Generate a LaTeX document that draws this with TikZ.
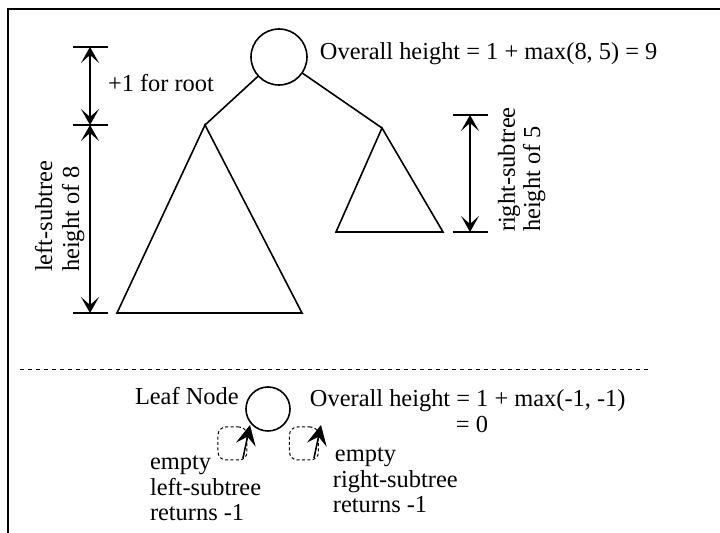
\documentclass[tikz,border=0pt]{standalone}
\usepackage{fontspec}
\setmainfont{Liberation Serif}
\usetikzlibrary{arrows.meta}
\begin{document}
\begin{tikzpicture}[x=0.5pt,y=-0.5pt,
  every node/.style={font=\fontsize{12.2}{13.5}\selectfont, inner sep=0pt, outer sep=0pt},
  ln/.style={line width=0.8pt},
  tnode/.style={circle, draw, line width=0.8pt},
  dim/.style={line width=0.6pt, {Stealth[length=8pt,width=9pt,inset=4pt]}-{Stealth[length=8pt,width=9pt,inset=4pt]}},
  tick/.style={line width=0.6pt},
  ebox/.style={draw, dashed, dash pattern=on 1.5pt off 1.2pt, line width=0.5pt, rounded corners=4pt, minimum width=14.5pt, minimum height=16.5pt},
  earrow/.style={line width=0.8pt, -{Stealth[length=10pt,width=10pt,inset=4pt]}},
  lbl/.style={anchor=base west}]
\useasboundingbox (0,0) rectangle (720,533);
% frame
\coordinate (fb) at (8,540);
\coordinate (fc) at (8,9);
\coordinate (fr) at (721,9);
\draw[line width=1.1pt] (fb) -- (fc) -- (fr);

% ---- top tree ----
\node[tnode, minimum size=28pt] (root) at (279,57) {};
\coordinate (la) at (205,125);
\coordinate (lb1) at (117,313);
\coordinate (lb2) at (302,313);
\coordinate (ra) at (382,128);
\coordinate (rb1) at (336,232);
\coordinate (rb2) at (443,232);
\draw[ln] (root) -- (la);
\draw[ln] (root) -- (ra);
\draw[ln, line join=miter] (la) -- (lb1) -- (lb2) -- cycle;
\draw[ln, line join=miter] (ra) -- (rb1) -- (rb2) -- cycle;

% left dimension
\coordinate (d1) at (90,47);
\coordinate (d2) at (90,125);
\coordinate (d3) at (90,313);
\foreach \c in {d1,d2,d3} \draw[tick] ([xshift=-8.5pt]\c) -- ([xshift=9pt]\c);
\draw[dim] (d1) -- (d2);
\draw[dim] (d2) -- (d3);
\node[lbl] (plus) at (108,92) {+1 for root};
\node[rotate=90, anchor=north west, align=left] (ltxt) at (35,272) {left-subtree\\height of 8};

% right dimension
\coordinate (e1) at (470,115);
\coordinate (e2) at (470,232);
\foreach \c in {e1,e2} \draw[tick] ([xshift=-8.5pt]\c) -- ([xshift=9pt]\c);
\draw[dim] (e1) -- (e2);
\node[rotate=90, anchor=north west, align=left, font=\fontsize{12.2}{12.6}\selectfont] (rtxt) at (498,232) {right-subtree\\height of 5};

\node[lbl] (ovr) at (320,60) {Overall height = 1 + max(8, 5) = 9};

% separator
\coordinate (sl) at (20,369);
\coordinate (sr) at (650,369);
\draw[line width=0.45pt, dash pattern=on 2pt off 2pt] (sl) -- (sr);

% ---- leaf ----
\node[tnode, minimum size=22pt] (leaf) at (268,409) {};
\node[lbl] (leafl) at (135,405) {Leaf Node};
\node[lbl] (ovr2) at (310,407) {Overall height = 1 + max(-1, -1)};
\node[lbl] (ovr3) at (456,433) {= 0};

\node[ebox] (eb1) at (232.5,443.5) {};
\node[ebox] (eb2) at (304,443.5) {};
\coordinate (a1s) at (243,458);
\coordinate (a1t) at (250,425);
\coordinate (a2s) at (314,458);
\coordinate (a2t) at (321,425);
\draw[earrow] (a1s) -- (a1t);
\draw[earrow] (a2s) -- (a2t);

\node[lbl] (l1) at (150,470) {empty};
\node[lbl] (l2) at (150,496) {left-subtree};
\node[lbl] (l3) at (150,521) {returns -1};
\node[lbl] (r1) at (335,462) {empty};
\node[lbl] (r2) at (333,488) {right-subtree};
\node[lbl] (r3) at (333,513) {returns -1};
\end{tikzpicture}
\end{document}
